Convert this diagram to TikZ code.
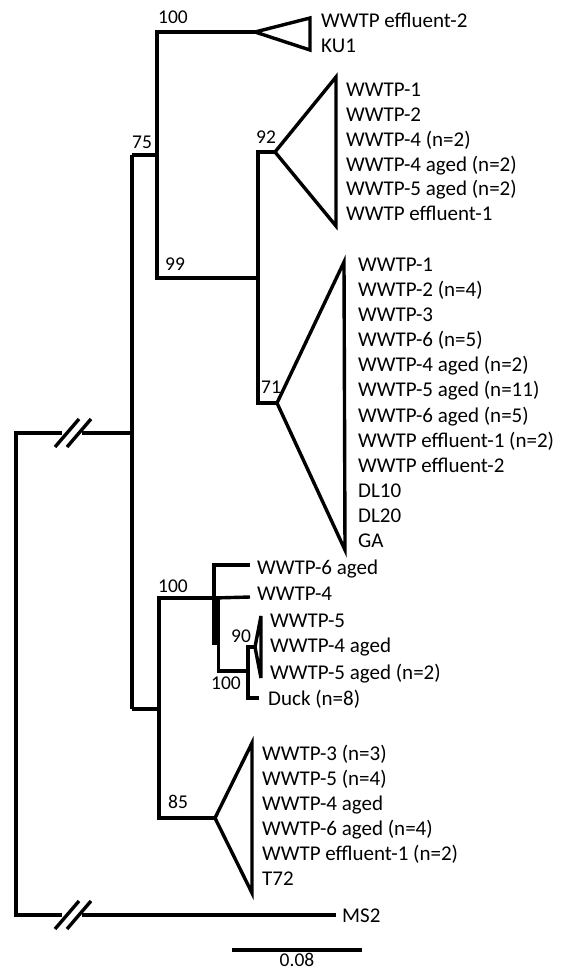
\documentclass[tikz,border=0pt]{standalone}
\usepackage{fontspec}
\setmainfont{Carlito}
\begin{document}
\begin{tikzpicture}[x=1pt,y=-1pt,
  br/.style={line width=3.4pt, line join=miter, line cap=butt},
  leaf/.style={anchor=base west, inner sep=0pt, font=\fontsize{21}{24}\selectfont},
  bs/.style={anchor=base west, inner sep=0pt, font=\fontsize{19.5}{22}\selectfont}]
\useasboundingbox[fill=white] (0,0) rectangle (565,972);
% ---- coordinates ----
\coordinate (r0) at (16,433);
\coordinate (r1) at (16,915);
\coordinate (bk1) at (62,433);
\coordinate (bk2) at (82,433);
\coordinate (mk1) at (62,915);
\coordinate (mk2) at (82,915);
\coordinate (ms2e) at (336,915);
\coordinate (n75r) at (132,433);
\coordinate (n75t) at (132,155);
\coordinate (n75b) at (132,709);
\coordinate (j1) at (157,155);
\coordinate (n100) at (157,32);
\coordinate (n99) at (157,278);
\coordinate (t1a) at (255,32);
\coordinate (t1b) at (310,18);
\coordinate (t1c) at (310,50);
\coordinate (n99r) at (258,278);
\coordinate (n92) at (258,152);
\coordinate (n71) at (258,403);
\coordinate (t2a) at (275,152);
\coordinate (t2b) at (336,77);
\coordinate (t2c) at (336,226);
\coordinate (t3a) at (277,403);
\coordinate (t3b) at (344,262);
\coordinate (t3c) at (345,550);
\coordinate (j2) at (159,709);
\coordinate (n100b) at (159,598);
\coordinate (n85) at (159,818);
\coordinate (c100) at (214,598);
\coordinate (t4a) at (215,818);
\coordinate (t4b) at (252,743);
\coordinate (t4c) at (252,893);
\coordinate (q1) at (214,565);
\coordinate (l6e) at (250,565);
\coordinate (l4e) at (250,597);
\coordinate (q4) at (218.5,643);
\coordinate (q5) at (218.5,671);
\coordinate (q6) at (248,671);
\coordinate (q7) at (248,647);
\coordinate (q8) at (248,698);
\coordinate (duck) at (259,698);
\coordinate (t5a) at (255,647);
\coordinate (t5b) at (261,616);
\coordinate (t5c) at (261,678);
\coordinate (sb1) at (232,950);
\coordinate (sb2) at (362,950);
% ---- root and breaks ----
\draw[br] (bk1) -- (r0) -- (r1) -- (mk1);
\draw[br] (bk2) -- (n75r);
\draw[br] (mk2) -- (ms2e);
\draw[br] (55,447) -- (79,419);
\draw[br] (67,447) -- (91,419);
\draw[br] (55,929) -- (79,901);
\draw[br] (67,929) -- (91,901);
% ---- upper clade ----
\draw[br] (n75t) -- (n75b);
\draw[br] (n75t) -- (j1);
\draw[br] (t1a) -- (n100) -- (n99) -- (n99r);
\draw[br] (t1a) -- (t1b) -- (t1c) -- cycle;
\draw[br] (t2a) -- (n92) -- (n71) -- (t3a);
\draw[br] (t2a) -- (t2b) -- (t2c) -- cycle;
\draw[br] (t3a) -- (t3b) -- (t3c) -- cycle;
% ---- lower clade ----
\draw[br] (n75b) -- (j2);
\draw[br] (c100) -- (n100b) -- (n85) -- (t4a);
\draw[br] (t4a) -- (t4b) -- (t4c) -- cycle;
\draw[br] (l6e) -- (q1) -- (c100);
\draw[br] (l4e) -- (c100);
\fill (211.5,597) rectangle (220,645);
\draw[br] (q4) -- (q5) -- (q6);
\draw[br] (t5a) -- (q7) -- (q8) -- (duck);
\draw[br] (t5a) -- (t5b) -- (t5c) -- cycle;
% ---- scale bar ----
\draw[br] (sb1) -- (sb2);
\node[anchor=base, inner sep=0pt, font=\fontsize{19.5}{22}\selectfont] (sbl) at (297,966) {0.08};
% ---- bootstrap values ----
\node[bs] (b100a) at (158,23) {100};
\node[bs] (b75) at (132,148) {75};
\node[bs] (b92) at (256,143) {92};
\node[bs] (b99) at (165,270) {99};
\node[bs] (b71) at (261,393) {71};
\node[bs] (b100b) at (158,592) {100};
\node[bs] (b90) at (231,642) {90};
\node[bs] (b100c) at (211,689) {100};
\node[bs] (b85) at (168,808) {85};
% ---- leaf labels ----
\node[leaf] (a1) at (321,27) {WWTP effluent-2};
\node[leaf] (a2) at (321,52) {KU1};
\node[leaf] (b1) at (346,96) {WWTP-1};
\node[leaf] (b2) at (346,121) {WWTP-2};
\node[leaf] (b3) at (346,146) {WWTP-4 (n=2)};
\node[leaf] (b4) at (346,171) {WWTP-4 aged (n=2)};
\node[leaf] (b5) at (346,195) {WWTP-5 aged (n=2)};
\node[leaf] (b6) at (346,220) {WWTP effluent-1};
\node[leaf] (c1) at (358,271) {WWTP-1};
\node[leaf] (c2) at (358,296) {WWTP-2 (n=4)};
\node[leaf] (c3) at (358,321) {WWTP-3};
\node[leaf] (c4) at (358,346) {WWTP-6 (n=5)};
\node[leaf] (c5) at (358,371) {WWTP-4 aged (n=2)};
\node[leaf] (c6) at (358,396) {WWTP-5 aged (n=11)};
\node[leaf] (c7) at (358,422) {WWTP-6 aged (n=5)};
\node[leaf] (c8) at (358,447) {WWTP effluent-1 (n=2)};
\node[leaf] (c9) at (358,472) {WWTP effluent-2};
\node[leaf] (c10) at (358,497) {DL10};
\node[leaf] (c11) at (358,522) {DL20};
\node[leaf] (c12) at (358,547) {GA};
\node[leaf] (d1) at (257,574) {WWTP-6 aged};
\node[leaf] (d2) at (257,600) {WWTP-4};
\node[leaf] (d3) at (270,627) {WWTP-5};
\node[leaf] (d4) at (270,652) {WWTP-4 aged};
\node[leaf] (d5) at (270,679) {WWTP-5 aged (n=2)};
\node[leaf] (d6) at (268,705) {Duck (n=8)};
\node[leaf] (e1) at (262,760) {WWTP-3 (n=3)};
\node[leaf] (e2) at (262,785) {WWTP-5 (n=4)};
\node[leaf] (e3) at (262,810) {WWTP-4 aged};
\node[leaf] (e4) at (262,835) {WWTP-6 aged (n=4)};
\node[leaf] (e5) at (262,860) {WWTP effluent-1 (n=2)};
\node[leaf] (e6) at (262,885) {T72};
\node[leaf] (f1) at (342,922) {MS2};
\end{tikzpicture}
\end{document}
